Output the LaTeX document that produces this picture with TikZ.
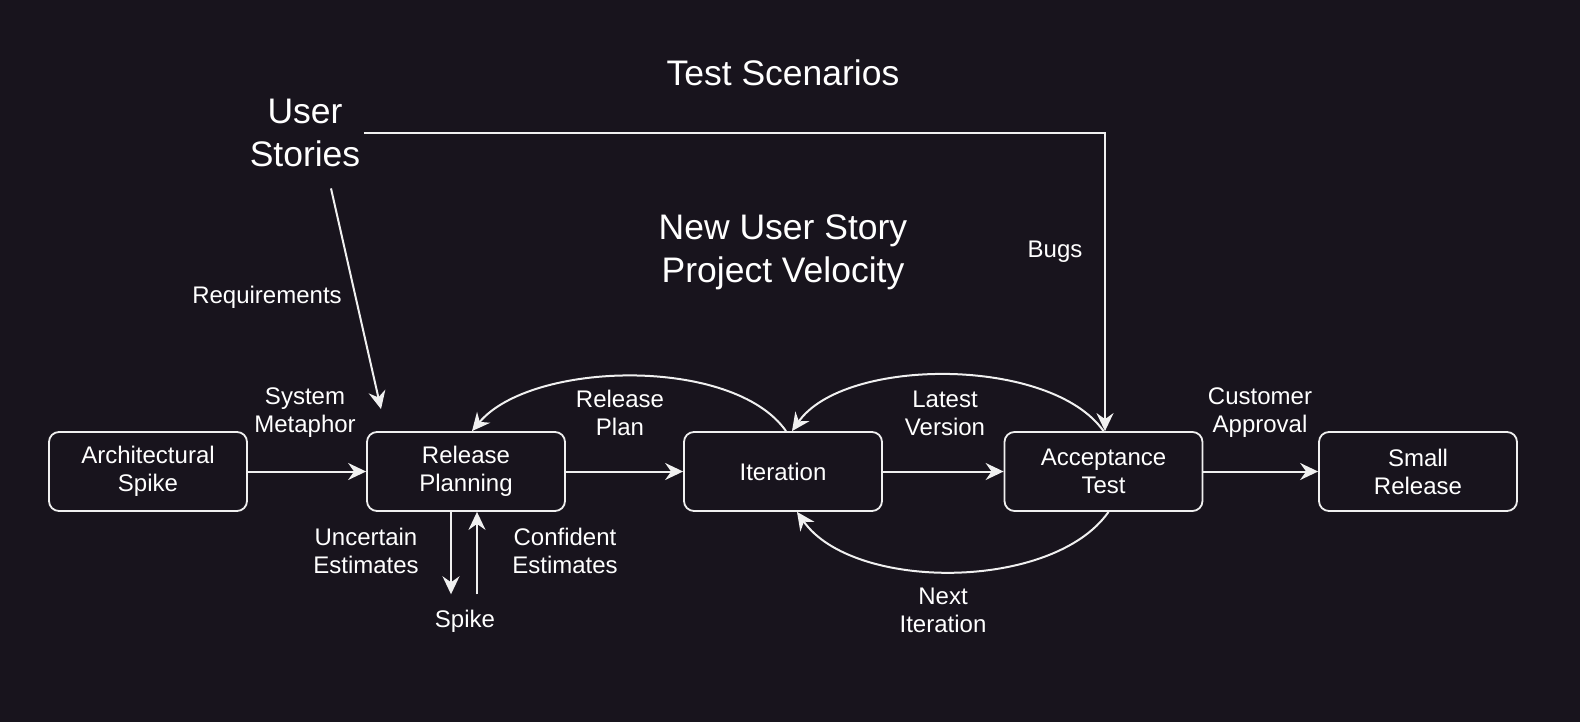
\documentclass[tikz,border=0pt]{standalone}
\usepackage{fontspec}
\setmainfont{Liberation Sans}
\usetikzlibrary{arrows.meta}
\definecolor{bg}{HTML}{18141D}
\definecolor{fg}{HTML}{F0F0F0}
\begin{document}
\begin{tikzpicture}[x=1pt,y=1pt,
        box/.style={draw=fg,fill=bg,line width=1.8pt,rounded corners=10pt,
            minimum width=198pt,minimum height=79pt,align=center,text=white,
            font=\fontsize{24}{28}\selectfont},
        lbl/.style={text=white,align=center,font=\fontsize{24}{28}\selectfont},
        big/.style={text=white,align=center,font=\fontsize{35.5}{43}\selectfont},
        flow/.style={draw=fg,line width=2pt,-{Stealth[length=18pt,width=17pt,inset=6pt]}}]
            % Background
            \fill[bg] (0,0) rectangle (1580,-722);
            \useasboundingbox (0,0) rectangle (1580,-722);
            % Main row
            \node[box] (arch) at (148,-471.5) {Architectural\\Spike};
            \node[box] (rp) at (466,-471.5) {Release\\Planning};
            \node[box] (it) at (783,-471.5) {Iteration};
            \node[box] (acc) at (1103.5,-471.5) {Acceptance\\Test};
            \node[box] (rel) at (1418,-471.5) {Small\\Release};
            % Big texts
            \node[big] (us) at (305,-133) {User\\Stories};
            \node[big] (scen) at (783,-73) {Test Scenarios};
            \node[big] (vel) at (783,-252) {New User Story\\Project Velocity};
            % Labels
            \node[lbl] (bugs) at (1055,-252) {Bugs};
            \node[lbl] (req) at (267,-297) {Requirements};
            \node[lbl] (meta) at (305,-413) {System\\Metaphor};
            \node[lbl] (plan) at (620,-413) {Release\\Plan};
            \node[lbl] (ver) at (945,-413) {Latest\\Version};
            \node[lbl] (appr) at (1260,-413) {Customer\\Approval};
            \node[lbl] (unc) at (366,-551) {Uncertain\\Estimates};
            \node[lbl] (conf) at (565,-551) {Confident\\Estimates};
            \node[lbl] (spike) at (465,-621) {Spike};
            \node[lbl] (nxt) at (943,-610) {Next\\Iteration};
            % Straight arrows
            \draw[flow] (arch) -- (rp);
            \draw[flow] (rp) -- (it);
            \draw[flow] (it) -- (acc);
            \draw[flow] (acc) -- (rel);
            % Loops
            \draw[flow] ([xshift=3pt]it.north) to[out=125,in=50,looseness=0.75] ([xshift=6pt]rp.north);
            \draw[flow] (acc.north) to[out=125,in=55,looseness=0.75] ([xshift=9pt]it.north);
            \draw[flow] ([xshift=5pt]acc.south) to[out=-125,in=-55,looseness=0.8] ([xshift=14pt]it.south);
            % From user stories
            \draw[flow] ([shift={(26pt,-18pt)}]us.south) -- ([shift={(-85pt,22pt)}]rp.north);
            \draw[flow] (us.east) -| ([xshift=1.5pt]acc.north);
            % Spike
            \draw[flow] ([xshift=-15pt]rp.south) -- ([shift={(-14pt,12pt)}]spike.north);
            \draw[flow] ([shift={(12pt,12pt)}]spike.north) -- ([xshift=11pt]rp.south);
        \end{tikzpicture}
\end{document}
